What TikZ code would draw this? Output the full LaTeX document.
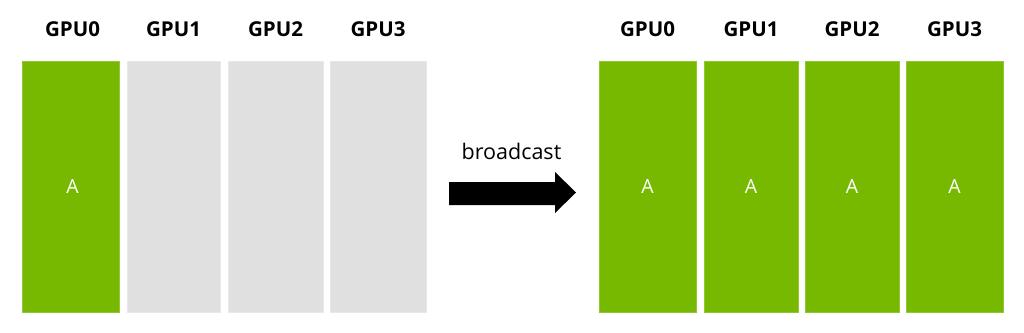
\documentclass[tikz,border=0pt]{standalone}
\usepackage{fontspec}
\setmainfont{Open Sans}
\begin{document}
\begin{tikzpicture}[x=1pt,y=-1pt,
  greenbox/.style={fill={rgb,255:red,118;green,185;blue,0},draw={rgb,255:red,145;green,200;blue,50},line width=1pt},
  graybox/.style={fill={rgb,255:red,224;green,224;blue,224},draw={rgb,255:red,232;green,232;blue,232},line width=1pt},
  gpulabel/.style={font=\fontsize{20.5}{23}\selectfont\bfseries,text=black,inner sep=0pt},
  dlabel/.style={font=\fontsize{19.5}{22}\selectfont,text=white,inner sep=0pt},
  bclabel/.style={font=\fontsize{21.5}{25}\selectfont,text=black,inner sep=0pt}]
\useasboundingbox (0,0) rectangle (1024,332);
% left side
\draw[greenbox] (22,61) rectangle (119,312);
\draw[graybox] (127,61) rectangle (220,312);
\draw[graybox] (228,61) rectangle (323,312);
\draw[graybox] (330,61) rectangle (426,312);
\node[gpulabel] (l0) at (72.5,29) {GPU0};
\node[gpulabel] (l1) at (173.5,29) {GPU1};
\node[gpulabel] (l2) at (275.5,29) {GPU2};
\node[gpulabel] (l3) at (378,29) {GPU3};
\node[dlabel] (la) at (72.5,187) {A};
% arrow
\node[bclabel] (bc) at (511.5,151) {broadcast};
\fill[black] (449,182) -- (555,182) -- (555,172) -- (576,192.5) -- (555,213) -- (555,205) -- (449,205) -- cycle;
% right side
\draw[greenbox] (599,61) rectangle (696,312);
\draw[greenbox] (704,61) rectangle (798,312);
\draw[greenbox] (805,61) rectangle (899,312);
\draw[greenbox] (906,61) rectangle (1003,312);
\node[gpulabel] (r0) at (647.5,29) {GPU0};
\node[gpulabel] (r1) at (751,29) {GPU1};
\node[gpulabel] (r2) at (852,29) {GPU2};
\node[gpulabel] (r3) at (954.5,29) {GPU3};
\node[dlabel] (ra) at (647.5,187) {A};
\node[dlabel] (rb) at (751,187) {A};
\node[dlabel] (rc) at (852,187) {A};
\node[dlabel] (rd) at (954.5,187) {A};
\end{tikzpicture}
\end{document}
